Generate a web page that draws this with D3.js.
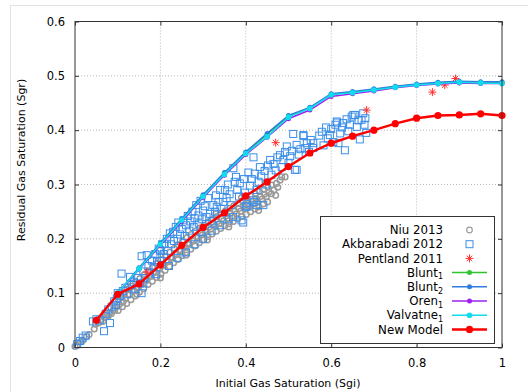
<!DOCTYPE html>
<html>
<head>
<meta charset="utf-8">
<script src="https://cdn.jsdelivr.net/npm/d3@7"></script>
<style>
  body { margin: 0; background: #fff; }
  text { font-family: "DejaVu Sans", sans-serif; }
</style>
</head>
<body>
<svg id="chart" width="528" height="392"></svg>
<script>
// model curves, sampled every 0.05 of Sgi
const modelX = [0.1, 0.15, 0.2, 0.25, 0.3, 0.35, 0.4, 0.45, 0.5, 0.55, 0.6, 0.65, 0.7, 0.75, 0.8, 0.85, 0.9, 0.95, 1.0]
const blunt1 = [0.100, 0.146, 0.191, 0.236, 0.280, 0.321, 0.359, 0.392, 0.426, 0.441, 0.466, 0.470, 0.475, 0.480, 0.484, 0.487, 0.489, 0.488, 0.488]
const blunt2 = [0.100, 0.147, 0.192, 0.237, 0.281, 0.322, 0.360, 0.394, 0.427, 0.442, 0.467, 0.471, 0.476, 0.481, 0.485, 0.488, 0.490, 0.489, 0.489]
const oren1 = [0.099, 0.144, 0.188, 0.232, 0.276, 0.317, 0.355, 0.387, 0.421, 0.437, 0.462, 0.467, 0.472, 0.478, 0.482, 0.485, 0.487, 0.486, 0.486]
const valvatne1 = [0.100, 0.145, 0.190, 0.234, 0.278, 0.319, 0.357, 0.388, 0.424, 0.440, 0.465, 0.469, 0.474, 0.479, 0.483, 0.486, 0.488, 0.487, 0.486]

const newModelX = [0.05, 0.1, 0.15, 0.2, 0.25, 0.3, 0.35, 0.4, 0.45, 0.5, 0.55, 0.6, 0.65, 0.7, 0.75, 0.8, 0.85, 0.9, 0.95, 1.0]
const newModel = [0.050, 0.098, 0.117, 0.152, 0.188, 0.221, 0.248, 0.279, 0.305, 0.333, 0.358, 0.376, 0.389, 0.400, 0.412, 0.422, 0.427, 0.428, 0.430, 0.427]

// experimental data [Sgi, Sgr]
const pentland = [[0.168, 0.139], [0.47, 0.377], [0.683, 0.437], [0.837, 0.47], [0.866, 0.483], [0.891, 0.495]]

const niu = [
  [0, 0.002], [0.005, 0.004], [0.012, 0.01], [0.018, 0.013], [0.027, 0.02], [0.033, 0.024], [0.045, 0.034], [0.048, 0.043],
  [0.055, 0.045], [0.06, 0.05], [0.065, 0.048], [0.07, 0.055], [0.074, 0.06], [0.078, 0.058], [0.082, 0.065], [0.085, 0.062],
  [0.09, 0.07], [0.093, 0.068], [0.097, 0.075],
  [0.101, 0.068], [0.104, 0.079], [0.102, 0.088], [0.106, 0.095],
  [0.111, 0.075], [0.113, 0.084], [0.109, 0.092], [0.115, 0.101],
  [0.121, 0.081], [0.118, 0.09], [0.124, 0.097], [0.122, 0.107],
  [0.131, 0.088], [0.128, 0.097], [0.134, 0.104], [0.132, 0.113],
  [0.141, 0.095], [0.138, 0.104], [0.144, 0.111], [0.142, 0.12],
  [0.151, 0.102], [0.148, 0.111], [0.154, 0.118], [0.152, 0.127],
  [0.161, 0.108], [0.158, 0.117], [0.164, 0.125], [0.162, 0.134],
  [0.171, 0.116], [0.168, 0.124], [0.174, 0.132], [0.172, 0.141],
  [0.181, 0.122], [0.178, 0.131], [0.184, 0.139], [0.182, 0.147],
  [0.191, 0.129], [0.188, 0.138], [0.194, 0.146], [0.192, 0.155],
  [0.201, 0.135], [0.198, 0.144], [0.204, 0.153], [0.202, 0.162],
  [0.211, 0.142], [0.208, 0.151], [0.214, 0.16], [0.212, 0.168],
  [0.221, 0.149], [0.218, 0.158], [0.224, 0.166], [0.222, 0.175],
  [0.231, 0.156], [0.228, 0.165], [0.234, 0.173], [0.232, 0.182],
  [0.241, 0.162], [0.238, 0.171], [0.244, 0.18], [0.242, 0.189],
  [0.251, 0.169], [0.248, 0.177], [0.254, 0.186], [0.252, 0.196],
  [0.261, 0.175], [0.258, 0.184], [0.264, 0.192], [0.262, 0.202],
  [0.271, 0.181], [0.268, 0.19], [0.274, 0.198], [0.272, 0.208],
  [0.281, 0.187], [0.278, 0.196], [0.284, 0.205], [0.282, 0.214],
  [0.291, 0.193], [0.288, 0.202], [0.294, 0.211], [0.292, 0.22],
  [0.301, 0.198], [0.298, 0.207], [0.304, 0.216], [0.302, 0.225],
  [0.311, 0.204], [0.308, 0.213], [0.314, 0.222], [0.312, 0.231],
  [0.321, 0.209], [0.318, 0.218], [0.324, 0.227], [0.322, 0.236],
  [0.331, 0.214], [0.328, 0.223], [0.334, 0.232], [0.332, 0.241],
  [0.341, 0.219], [0.338, 0.228], [0.344, 0.237], [0.342, 0.246],
  [0.351, 0.224], [0.348, 0.233], [0.354, 0.242], [0.352, 0.251],
  [0.361, 0.228], [0.358, 0.237], [0.364, 0.247], [0.362, 0.256],
  [0.371, 0.232], [0.368, 0.242], [0.374, 0.251], [0.372, 0.261],
  [0.381, 0.237], [0.378, 0.246], [0.384, 0.256], [0.382, 0.265],
  [0.391, 0.241], [0.388, 0.251], [0.394, 0.26], [0.392, 0.27],
  [0.401, 0.245], [0.398, 0.255], [0.404, 0.265], [0.402, 0.275],
  [0.411, 0.25], [0.408, 0.26], [0.414, 0.269], [0.412, 0.279],
  [0.421, 0.255], [0.418, 0.264], [0.424, 0.274], [0.422, 0.283],
  [0.431, 0.259], [0.428, 0.268], [0.434, 0.278], [0.432, 0.287],
  [0.441, 0.264], [0.438, 0.273], [0.444, 0.282], [0.442, 0.291],
  [0.451, 0.268], [0.448, 0.277], [0.454, 0.286], [0.452, 0.295],
  [0.46, 0.299], [0.466, 0.29], [0.472, 0.302], [0.48, 0.308], [0.484, 0.314], [0.492, 0.314], [0.47, 0.28], [0.475, 0.295],
  [0.46, 0.283], [0.145, 0.098], [0.2, 0.128], [0.26, 0.17], [0.31, 0.198], [0.36, 0.222], [0.43, 0.252], [0.39, 0.276],
  [0.33, 0.246]
]

const akbarabadi = [
  [0.005, 0.006], [0.012, 0.012], [0.018, 0.018], [0.025, 0.022], [0.042, 0.048], [0.05, 0.052], [0.058, 0.05], [0.068, 0.03],
  [0.082, 0.045], [0.072, 0.062], [0.078, 0.07], [0.086, 0.075], [0.092, 0.085], [0.098, 0.09], [0.1, 0.1], [0.096, 0.078],
  [0.105, 0.095], [0.109, 0.136], [0.112, 0.104], [0.118, 0.11], [0.122, 0.098], [0.129, 0.13], [0.132, 0.115], [0.138, 0.12],
  [0.142, 0.108], [0.148, 0.128], [0.152, 0.118], [0.156, 0.168], [0.156, 0.1], [0.16, 0.14], [0.163, 0.128], [0.168, 0.17],
  [0.172, 0.15], [0.176, 0.138], [0.18, 0.16], [0.184, 0.148], [0.188, 0.172], [0.192, 0.158], [0.196, 0.182], [0.199, 0.179],
  [0.2, 0.165], [0.204, 0.19], [0.208, 0.172], [0.21, 0.191], [0.215, 0.2], [0.218, 0.178], [0.222, 0.21], [0.225, 0.19],
  [0.23, 0.213], [0.232, 0.196], [0.236, 0.222], [0.24, 0.2], [0.242, 0.23], [0.246, 0.208], [0.25, 0.218], [0.254, 0.234],
  [0.257, 0.205], [0.26, 0.225], [0.264, 0.242], [0.268, 0.215], [0.27, 0.232], [0.275, 0.25], [0.278, 0.222], [0.28, 0.238],
  [0.284, 0.262], [0.289, 0.243], [0.29, 0.228], [0.294, 0.27], [0.298, 0.236], [0.3, 0.252], [0.296, 0.212],
  [0.304, 0.26], [0.308, 0.24], [0.312, 0.275], [0.316, 0.246], [0.32, 0.232], [0.324, 0.262], [0.328, 0.25], [0.332, 0.259],
  [0.33, 0.28], [0.336, 0.268], [0.34, 0.29], [0.343, 0.255], [0.347, 0.268], [0.351, 0.29], [0.355, 0.275], [0.358, 0.3],
  [0.362, 0.282], [0.366, 0.262], [0.371, 0.33], [0.374, 0.305], [0.377, 0.314], [0.38, 0.29], [0.384, 0.278], [0.386, 0.302],
  [0.39, 0.234], [0.394, 0.23], [0.396, 0.31], [0.398, 0.285], [0.402, 0.265], [0.402, 0.259], [0.406, 0.322], [0.41, 0.298],
  [0.414, 0.31], [0.418, 0.35], [0.418, 0.271], [0.421, 0.32], [0.425, 0.29], [0.425, 0.262], [0.43, 0.305], [0.433, 0.332],
  [0.436, 0.315], [0.441, 0.262], [0.444, 0.325], [0.448, 0.3],
  [0.452, 0.335], [0.457, 0.345], [0.46, 0.318], [0.465, 0.338], [0.47, 0.326], [0.474, 0.35], [0.48, 0.354], [0.484, 0.332],
  [0.488, 0.345], [0.492, 0.36], [0.496, 0.37], [0.5, 0.34], [0.504, 0.352], [0.508, 0.362], [0.511, 0.393], [0.515, 0.327],
  [0.519, 0.373], [0.519, 0.327], [0.524, 0.355], [0.528, 0.365], [0.535, 0.389], [0.535, 0.391], [0.539, 0.367], [0.543, 0.376],
  [0.548, 0.36], [0.552, 0.382], [0.558, 0.367], [0.558, 0.376],
  [0.572, 0.39], [0.578, 0.397], [0.582, 0.372], [0.588, 0.405], [0.592, 0.385], [0.597, 0.391], [0.6, 0.402], [0.605, 0.378],
  [0.61, 0.41], [0.613, 0.416], [0.614, 0.414], [0.617, 0.376], [0.621, 0.394], [0.625, 0.405], [0.628, 0.413], [0.632, 0.363],
  [0.636, 0.42], [0.64, 0.398], [0.644, 0.41], [0.648, 0.425], [0.652, 0.428], [0.656, 0.428], [0.66, 0.406], [0.664, 0.418],
  [0.667, 0.383], [0.671, 0.419], [0.675, 0.431], [0.678, 0.41], [0.68, 0.422], [0.682, 0.395],
  [0.16, 0.118], [0.19, 0.135], [0.22, 0.15], [0.24, 0.165], [0.26, 0.175], [0.28, 0.19], [0.3, 0.2], [0.32, 0.215],
  [0.34, 0.225], [0.36, 0.236], [0.37, 0.24], [0.4, 0.26], [0.42, 0.268]
]

const xTicks = [0, 0.2, 0.4, 0.6, 0.8, 1]
const yTicks = [0, 0.1, 0.2, 0.3, 0.4, 0.5, 0.6]

const width = 528
const height = 392
const plotLeft = 75, plotRight = 502, plotTop = 21.5, plotBottom = 347.5

const svg = d3.select('#chart')

svg.append('rect')
    .attr('width', width)
    .attr('height', height)
    .attr('fill', '#fff')

// faint outer frame
svg.append('rect')
    .attr('x', 10.5).attr('y', 5.5)
    .attr('width', 540).attr('height', 420)
    .attr('fill', 'none')
    .attr('stroke', '#e2e2e2')

const x = d3.scaleLinear().domain([0, 1]).range([plotLeft, plotRight])
const y = d3.scaleLinear().domain([0, 0.6]).range([plotBottom, plotTop])
const fmt = d3.format('~g')

// grid
const grid = svg.append('g')
    .attr('stroke', '#b8b8b8')
    .attr('stroke-dasharray', '1,2')
grid.selectAll('.gx').data(xTicks.slice(1, -1)).join('line')
    .attr('x1', d => x(d)).attr('x2', d => x(d))
    .attr('y1', plotTop).attr('y2', plotBottom)
grid.selectAll('.gy').data(yTicks.slice(1, -1)).join('line')
    .attr('x1', plotLeft).attr('x2', plotRight)
    .attr('y1', d => y(d)).attr('y2', d => y(d))

// axes, ticks pointing inward on all sides
const styleAxis = g => {
  g.select('.domain').remove()
  g.selectAll('line').attr('stroke', '#333')
  g.selectAll('text').attr('fill', '#000').style('font-size', '11.5px')
}
svg.append('g')
    .attr('transform', `translate(0,${plotBottom})`)
    .call(d3.axisBottom(x).tickValues(xTicks).tickFormat(fmt).tickSize(-4).tickPadding(11))
    .call(styleAxis)
svg.append('g')
    .attr('transform', `translate(${plotLeft},0)`)
    .call(d3.axisLeft(y).tickValues(yTicks).tickFormat(fmt).tickSize(-4).tickPadding(10))
    .call(styleAxis)
svg.append('g')
    .attr('transform', `translate(0,${plotTop})`)
    .call(d3.axisTop(x).tickValues(xTicks).tickFormat('').tickSize(-4))
    .call(styleAxis)
svg.append('g')
    .attr('transform', `translate(${plotRight},0)`)
    .call(d3.axisRight(y).tickValues(yTicks).tickFormat('').tickSize(-4))
    .call(styleAxis)

const plot = svg.append('g')

// Niu 2013
plot.append('g').selectAll('circle').data(niu).join('circle')
    .attr('cx', d => x(d[0])).attr('cy', d => y(d[1]))
    .attr('r', 2.8)
    .attr('fill', 'none')
    .attr('stroke', '#9a9a9a')
    .attr('stroke-width', 1.5)

// Akbarabadi 2012
plot.append('g').selectAll('rect').data(akbarabadi).join('rect')
    .attr('x', d => x(d[0]) - 3.5).attr('y', d => y(d[1]) - 3.5)
    .attr('width', 7).attr('height', 7)
    .attr('fill', 'none')
    .attr('stroke', '#3b8ee8')
    .attr('stroke-width', 1)

const star = (g, cx, cy, s) => {
  const p = `M${cx - s},${cy}H${cx + s}M${cx},${cy - s}V${cy + s}` +
    `M${cx - s * 0.7},${cy - s * 0.7}L${cx + s * 0.7},${cy + s * 0.7}` +
    `M${cx - s * 0.7},${cy + s * 0.7}L${cx + s * 0.7},${cy - s * 0.7}`
  g.append('path').attr('d', p).attr('stroke', '#ff3030').attr('stroke-width', 1).attr('fill', 'none')
}

// Pentland 2011
const pg = plot.append('g')
pentland.forEach(d => star(pg, x(d[0]), y(d[1]), 4))

// model lines
const models = [
  { name: 'Blunt', sub: '1', values: blunt1, xs: modelX, color: '#2fc42f', w: 1.5, r: 2.5 },
  { name: 'Blunt', sub: '2', values: blunt2, xs: modelX, color: '#2f7de0', w: 1.5, r: 2.5 },
  { name: 'Oren', sub: '1', values: oren1, xs: modelX, color: '#a020f0', w: 1.5, r: 2.5 },
  { name: 'Valvatne', sub: '1', values: valvatne1, xs: modelX, color: '#10dcec', w: 1.5, r: 2.8 },
  { name: 'New Model', sub: '', values: newModel, xs: newModelX, color: '#ff0000', w: 2.5, r: 3.6 }
]

const line = d3.line().x(d => x(d[0])).y(d => y(d[1]))
models.forEach(m => {
  const pts = m.xs.map((v, i) => [v, m.values[i]])
  plot.append('path')
      .attr('d', line(pts))
      .attr('fill', 'none')
      .attr('stroke', m.color)
      .attr('stroke-width', m.w)
  plot.append('g').selectAll('circle').data(pts).join('circle')
      .attr('cx', d => x(d[0])).attr('cy', d => y(d[1]))
      .attr('r', m.r)
      .attr('fill', m.color)
})

// plot border
svg.append('rect')
    .attr('x', plotLeft).attr('y', plotTop)
    .attr('width', plotRight - plotLeft).attr('height', plotBottom - plotTop)
    .attr('fill', 'none')
    .attr('stroke', '#333')

// legend
const lg = svg.append('g')
lg.append('rect')
    .attr('x', 320.5).attr('y', 216.5)
    .attr('width', 174).attr('height', 127)
    .attr('fill', '#fff')
    .attr('stroke', '#333')

const rowY = i => 230 + i * 14.2
const textX = 443, symX = 469.5
const addLabel = (i, name, sub) => {
  const t = lg.append('text')
      .attr('x', textX).attr('y', rowY(i) + 4.2)
      .attr('text-anchor', 'end')
      .style('font-size', '11.8px')
  t.append('tspan').text(name)
  if (sub) t.append('tspan').attr('dy', 2.5).style('font-size', '8px').text(sub)
}

addLabel(0, 'Niu 2013')
lg.append('circle').attr('cx', symX).attr('cy', rowY(0)).attr('r', 2.8)
    .attr('fill', 'none').attr('stroke', '#9c9c9c').attr('stroke-width', 1.2)
addLabel(1, 'Akbarabadi 2012')
lg.append('rect').attr('x', symX - 3.5).attr('y', rowY(1) - 3.5).attr('width', 7).attr('height', 7)
    .attr('fill', 'none').attr('stroke', '#3b8ee8')
addLabel(2, 'Pentland 2011')
star(lg, symX, rowY(2), 4)

models.forEach((m, k) => {
  const i = k + 3
  addLabel(i, m.name, m.sub)
  lg.append('line')
      .attr('x1', 452).attr('x2', 487)
      .attr('y1', rowY(i)).attr('y2', rowY(i))
      .attr('stroke', m.color).attr('stroke-width', m.w)
  lg.append('circle').attr('cx', symX).attr('cy', rowY(i)).attr('r', m.r).attr('fill', m.color)
})

// axis titles
svg.append('text')
    .attr('x', 288).attr('y', 387)
    .attr('text-anchor', 'middle')
    .style('font-size', '11px')
    .text('Initial Gas Saturation (Sgi)')
svg.append('text')
    .attr('transform', 'translate(25,160) rotate(-90)')
    .attr('text-anchor', 'middle')
    .style('font-size', '11px')
    .text('Residual Gas Saturation (Sgr)')
</script>
</body>
</html>
